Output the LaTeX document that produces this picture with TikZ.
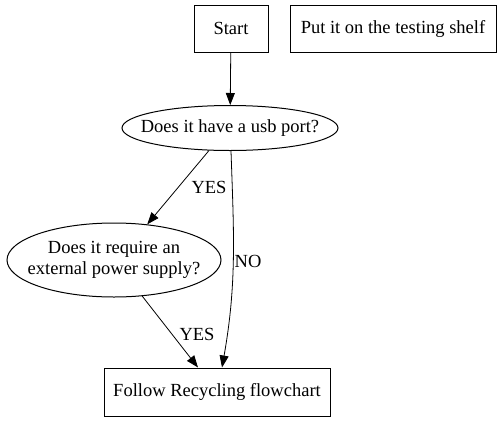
\documentclass[tikz,border=0pt]{standalone}
\usepackage{fontspec}
\setmainfont{Liberation Serif}
\usetikzlibrary{shapes.geometric,arrows.meta}
\begin{document}
\begin{tikzpicture}[x=1pt,y=-1pt,
  every node/.style={font=\fontsize{18.5}{21}\selectfont, inner sep=0pt},
  boxnode/.style={draw, rectangle, line width=1pt},
  ellnode/.style={draw, ellipse, line width=1pt},
  edge/.style={draw, line width=0.8pt, -{Triangle[length=12pt,width=9pt]}},
  lbl/.style={align=center}]
\useasboundingbox (0,0) rectangle (503,421);
\node[boxnode, minimum width=74pt, minimum height=47pt] (start) at (231,28.5) {Start};
\node[boxnode, minimum width=206pt, minimum height=47pt] (shelf) at (393,28.5) {Put it on the testing shelf};
\node[ellnode, minimum width=216pt, minimum height=45pt] (usb) at (230,128) {};
\node[lbl] (usbtext) at (usb) {Does it have a usb port?};
\node[ellnode, minimum width=214pt, minimum height=74pt] (ext) at (114,260) {};
\node[lbl] (exttext) at (ext) {Does it require an\\external power supply?};
\node[boxnode, minimum width=226pt, minimum height=48pt] (follow) at (217,392) {Follow Recycling flowchart};
\draw[edge] (start) -- (usb);
\draw[edge] (usb.227) -- (ext.47);
\draw[edge] ([xshift=1pt]usb.south) to[out=-88,in=80] ([xshift=5pt]follow.north);
\draw[edge] (ext.308) -- ([xshift=-19pt]follow.north);
\node[lbl] (l1) at (209,187) {YES};
\node[lbl] (l2) at (248,261) {NO};
\node[lbl] (l3) at (197,334) {YES};
\end{tikzpicture}
\end{document}
